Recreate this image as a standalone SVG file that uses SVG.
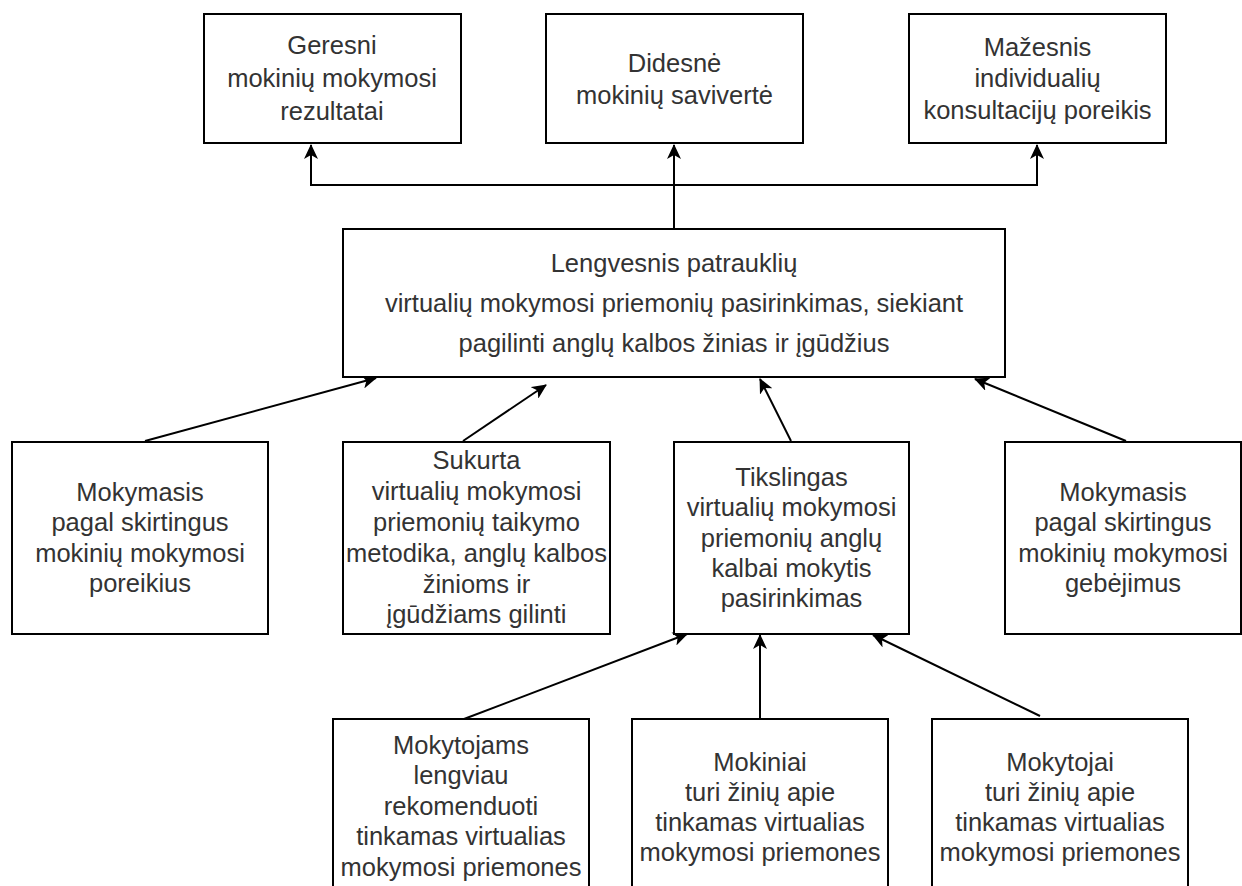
<svg xmlns="http://www.w3.org/2000/svg" width="1242" height="886" viewBox="0 0 1242 886">
<style>
.box{fill:#fff;stroke:#000;stroke-width:2}
.t{font-family:"Liberation Sans",Arial,sans-serif;font-size:25.5px;fill:#333;text-anchor:middle}
.c{fill:none;stroke:#000;stroke-width:2}
</style>
<defs>
<marker id="ah" markerUnits="userSpaceOnUse" markerWidth="15" markerHeight="14" refX="14" refY="7" orient="auto">
<path d="M0,0 L15,7 L0,14 L4,7 z" fill="#000"/>
</marker>
</defs>
<rect width="1242" height="886" fill="#fff"/>
<g id="connectors">
<path class="c" d="M674,229 V145" marker-end="url(#ah)"/>
<path class="c" d="M674,185 H311 V145" marker-end="url(#ah)"/>
<path class="c" d="M674,185 H1037 V145" marker-end="url(#ah)"/>
<path class="c" d="M145,441 L376,378" marker-end="url(#ah)"/>
<path class="c" d="M463,441 L546,385" marker-end="url(#ah)"/>
<path class="c" d="M791,441 L760,379" marker-end="url(#ah)"/>
<path class="c" d="M1126,441 L975,379" marker-end="url(#ah)"/>
<path class="c" d="M464,719 L687,634" marker-end="url(#ah)"/>
<path class="c" d="M760,719 V635" marker-end="url(#ah)"/>
<path class="c" d="M1040,716 L873,635" marker-end="url(#ah)"/>
</g>
<g id="n1"><rect class="box" x="204" y="14" width="257" height="129"/>
<text class="t" x="332" y="54">Geresni</text><text class="t" x="332" y="87">mokinių mokymosi</text><text class="t" x="332" y="120">rezultatai</text></g>
<g id="n2"><rect class="box" x="546" y="14" width="257" height="129"/>
<text class="t" x="674.5" y="72">Didesnė</text><text class="t" x="674.5" y="104">mokinių savivertė</text></g>
<g id="n3"><rect class="box" x="909" y="14" width="257" height="129"/>
<text class="t" x="1037.5" y="56">Mažesnis</text><text class="t" x="1037.5" y="87">individualių</text><text class="t" x="1037.5" y="119">konsultacijų poreikis</text></g>
<g id="n4"><rect class="box" x="343" y="229" width="662" height="148"/>
<text class="t" x="674" y="272">Lengvesnis patrauklių</text><text class="t" x="674" y="312">virtualių mokymosi priemonių pasirinkimas, siekiant</text><text class="t" x="674" y="352">pagilinti anglų kalbos žinias ir įgūdžius</text></g>
<g id="n5"><rect class="box" x="12" y="442" width="256" height="192"/>
<text class="t" x="140" y="501">Mokymasis</text><text class="t" x="140" y="531">pagal skirtingus</text><text class="t" x="140" y="562">mokinių mokymosi</text><text class="t" x="140" y="592">poreikius</text></g>
<g id="n6"><rect class="box" x="343" y="442" width="267" height="192"/>
<text class="t" x="476.5" y="469">Sukurta</text><text class="t" x="476.5" y="500">virtualių mokymosi</text><text class="t" x="476.5" y="531">priemonių taikymo</text><text class="t" x="476.5" y="562">metodika, anglų kalbos</text><text class="t" x="476.5" y="593">žinioms ir</text><text class="t" x="476.5" y="623">įgūdžiams gilinti</text></g>
<g id="n7"><rect class="box" x="674" y="442" width="235" height="192"/>
<text class="t" x="791.5" y="486">Tikslingas</text><text class="t" x="791.5" y="516">virtualių mokymosi</text><text class="t" x="791.5" y="547">priemonių anglų</text><text class="t" x="791.5" y="577">kalbai mokytis</text><text class="t" x="791.5" y="607">pasirinkimas</text></g>
<g id="n8"><rect class="box" x="1005" y="442" width="236" height="192"/>
<text class="t" x="1123" y="501">Mokymasis</text><text class="t" x="1123" y="531">pagal skirtingus</text><text class="t" x="1123" y="562">mokinių mokymosi</text><text class="t" x="1123" y="592">gebėjimus</text></g>
<g id="n9"><rect class="box" x="333" y="719" width="256" height="200"/>
<text class="t" x="461" y="754">Mokytojams</text><text class="t" x="461" y="784">lengviau</text><text class="t" x="461" y="815">rekomenduoti</text><text class="t" x="461" y="845">tinkamas virtualias</text><text class="t" x="461" y="876">mokymosi priemones</text></g>
<g id="n10"><rect class="box" x="632" y="719" width="256" height="200"/>
<text class="t" x="760" y="771">Mokiniai</text><text class="t" x="760" y="801">turi žinių apie</text><text class="t" x="760" y="831">tinkamas virtualias</text><text class="t" x="760" y="861">mokymosi priemones</text></g>
<g id="n11"><rect class="box" x="932" y="719" width="256" height="200"/>
<text class="t" x="1060" y="771">Mokytojai</text><text class="t" x="1060" y="801">turi žinių apie</text><text class="t" x="1060" y="831">tinkamas virtualias</text><text class="t" x="1060" y="861">mokymosi priemones</text></g>
</svg>
